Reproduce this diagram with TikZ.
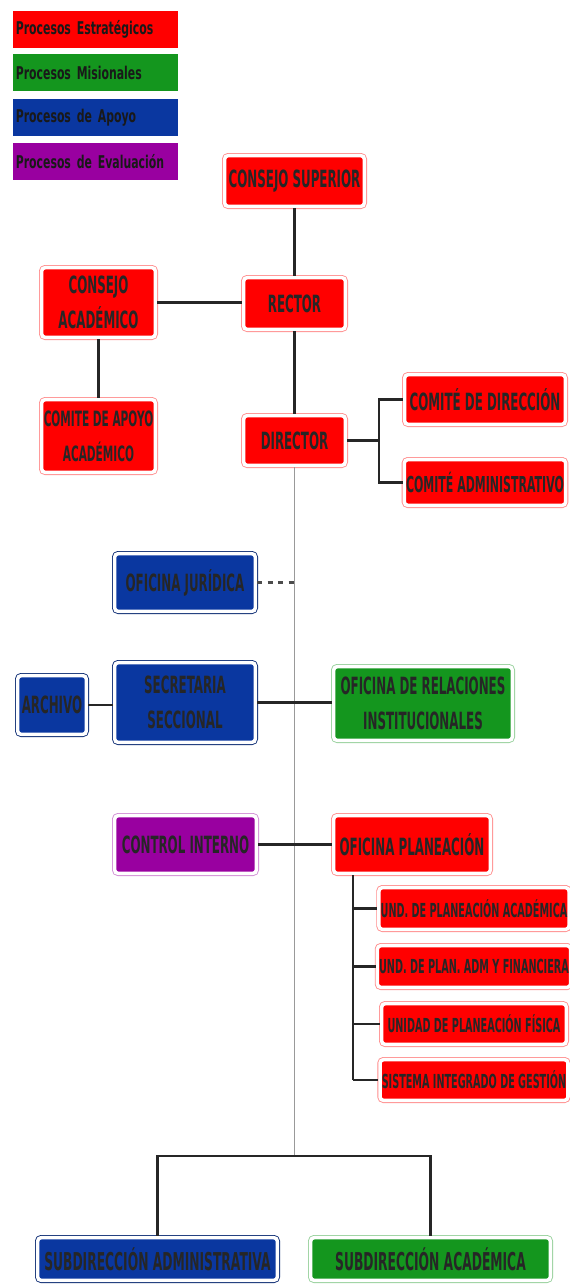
\documentclass[tikz,border=0pt]{standalone}
\usepackage{fontspec}
\usepackage{xcolor}
\usepackage{tikz}
\usetikzlibrary{positioning,calc}

\newfontfamily\orgfont{DejaVu Sans}[FakeStretch=0.5]
\newfontfamily\legfont{DejaVu Sans}[FakeStretch=0.62]

\definecolor{estra}{RGB}{255,0,0}
\definecolor{misio}{RGB}{20,150,30}
\definecolor{apoyo}{RGB}{10,55,160}
\definecolor{evalu}{RGB}{153,0,160}

\tikzset{
  unit/.style={rounded corners=2pt, fill=#1, draw=white, line width=2pt, text=black!85,
    font=\orgfont\bfseries\fontsize{13.5}{20}\selectfont, align=center, inner sep=1pt},
  estrabox/.style={unit=estra, preaction={draw=estra!45, line width=3pt}},
  misiobox/.style={unit=misio, preaction={draw=misio!45, line width=3pt}},
  apoyobox/.style={unit=apoyo, preaction={draw=apoyo!70!black, line width=3pt}},
  evalubox/.style={unit=evalu, preaction={draw=evalu!45, line width=3pt}},
  wh/.style 2 args={minimum width=#1*0.02cm-3pt, minimum height=#2*0.02cm-3pt},
  small/.style={font=\orgfont\bfseries\fontsize{11}{13}\selectfont},
  legend/.style={fill=#1, minimum width=3.3cm, minimum height=0.74cm, text width=3.2cm,
    align=left, inner sep=0pt, text=black!90, font=\legfont\bfseries\fontsize{10}{12}\selectfont},
  link/.style={line width=1.3pt, black!85},
  trunk/.style={line width=0.6pt, gray!80},
}

\begin{document}
\begin{tikzpicture}[x=0.02cm, y=-0.02cm]
    \useasboundingbox (0,0) rectangle (570,1285);

    % Legend
    \node[legend=estra, anchor=north west] (lgE) at (13,11)  {Procesos Estratégicos};
    \node[legend=misio, anchor=north west] (lgM) at (13,54)  {Procesos Misionales};
    \node[legend=apoyo, anchor=north west] (lgA) at (13,99)  {Procesos de Apoyo};
    \node[legend=evalu, anchor=north west] (lgV) at (13,143) {Procesos de Evaluación};

    % Direction
    \node[estrabox, wh={145}{56}] (sup) at (294.5,181) {CONSEJO SUPERIOR};
    \node[estrabox, wh={107}{57}] (rector) at (294.5,303.5) {RECTOR};
    \node[estrabox, wh={107}{55}] (dir) at (294.5,440.5) {DIRECTOR};
    \node[estrabox, wh={119}{75}] (cacad) at (98.5,302.5) {CONSEJO\\ACADÉMICO};
    \node[estrabox, wh={119}{78}, font=\orgfont\bfseries\fontsize{12}{20}\selectfont] (capoyo) at (98.5,436) {COMITE DE APOYO\\ACADÉMICO};
    \node[estrabox, wh={166}{55}] (cdir) at (485,399.5) {COMITÉ DE DIRECCIÓN};
    \node[estrabox, wh={166}{51}, font=\orgfont\bfseries\fontsize{12.5}{14}\selectfont] (cadm) at (485,482.5) {COMITÉ ADMINISTRATIVO};

    % Offices
    \node[apoyobox, wh={146}{63}] (jur) at (185,582.5) {OFICINA JURÍDICA};
    \node[apoyobox, wh={74}{64}] (arch) at (52,705) {ARCHIVO};
    \node[apoyobox, wh={146}{85}] (sec) at (185,702.5) {SECRETARIA\\SECCIONAL};
    \node[misiobox, wh={184}{79}] (rel) at (423,703.5) {OFICINA DE RELACIONES\\INSTITUCIONALES};
    \node[evalubox, wh={147}{63}] (ci) at (185.5,844.5) {CONTROL INTERNO};
    \node[estrabox, wh={162}{63}] (plan) at (412,844.5) {OFICINA PLANEACIÓN};

    % Planning units
    \node[estrabox, small, wh={190}{47}] (u1) at (474,908.5) {UND. DE PLANEACIÓN ACADÉMICA};
    \node[estrabox, small, wh={190}{47}] (u2) at (474,966.5) {UND. DE PLAN. ADM Y FINANCIERA};
    \node[estrabox, small, wh={190}{46}] (u3) at (474,1024) {UNIDAD DE PLANEACIÓN FÍSICA};
    \node[estrabox, small, wh={190}{46}] (u4) at (474,1080) {SISTEMA INTEGRADO DE GESTIÓN};

    % Sub-directions
    \node[apoyobox, wh={245}{48}, font=\orgfont\bfseries\fontsize{14}{16}\selectfont] (sadm) at (157.5,1259) {SUBDIRECCIÓN ADMINISTRATIVA};
    \node[misiobox, wh={245}{48}, font=\orgfont\bfseries\fontsize{14}{16}\selectfont] (saca) at (430.5,1259) {SUBDIRECCIÓN ACADÉMICA};

    % Connections
    \coordinate (tr) at (294.5,1156);
    \draw[trunk] (dir.south) -- (tr);
    \draw[link] (sup.south) -- (rector.north);
    \draw[link] (rector.south) -- (dir.north);
    \draw[link] (cacad.east) -- (cacad.east -| rector.west);
    \draw[link] (cacad.south) -- (capoyo.north);
    \draw[link] (dir.east) -- ++(32,0) coordinate (br);
    \draw[link] (cdir.west) -| (br) |- (cadm.west);
    \draw[link, dashed, black!70] (jur.east) -- (jur.east -| tr);
    \draw[link] (arch.east) -- (arch.east -| sec.west);
    \draw[link] (sec.east) -- (sec.east -| rel.west);
    \draw[link] (ci.east) -- (ci.east -| plan.west);
    \draw[link] ([xshift=21*0.02cm]plan.south west) coordinate (pv) -- (u4.west -| pv);
    \foreach \u in {u1,u2,u3,u4}
        \draw[link] (\u.west -| pv) -- (\u.west);
    \draw[link] (sadm.north) |- (tr) -| (saca.north);
\end{tikzpicture}
\end{document}
